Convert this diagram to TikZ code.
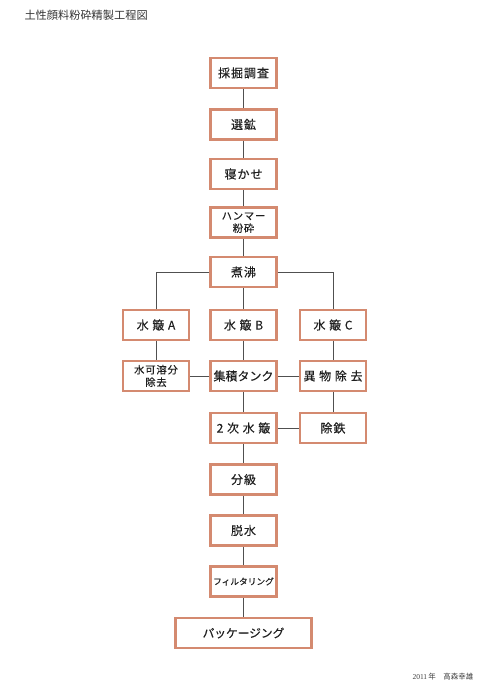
\documentclass[tikz,border=0pt]{standalone}
\usepackage{fontspec}
\setmainfont{Liberation Serif}
\newfontfamily\jp[FakeBold=0.25]{Noto Sans CJK JP}
\newfontfamily\jpsp[LetterSpace=8,FakeBold=0.25]{Noto Sans CJK JP}
\newfontfamily\jptitle{Noto Sans CJK JP}
\definecolor{boxedge}{RGB}{212,138,112}
\definecolor{conn}{RGB}{80,80,80}
\begin{document}
\begin{tikzpicture}[x=1pt,y=-1pt,
  stepbox/.style={draw=boxedge,line width=2.8pt,fill=white,minimum width=66pt,minimum height=30pt,inner sep=0pt,align=center,font=\jpsp\fontsize{12}{14}\selectfont,text=black!88},
  smallbox/.style={stepbox,font=\jpsp\fontsize{10.3}{12.5}\selectfont},
  link/.style={draw=conn,line width=1pt}]
\useasboundingbox (0,0) rectangle (490,693);
\node[anchor=west,font=\jptitle\fontsize{11.2}{13}\selectfont,text=black!80] (title) at (21,15) {土性顔料粉砕精製工程図};
\node[anchor=east,font=\fontsize{7.5}{9}\selectfont,text=black!75] (foot) at (477,677) {2011\,{\jptitle 年}\quad{\jptitle 高森幸雄}};

\node[stepbox] (n1) at (243.5,73) {採掘調査};
\node[stepbox] (n2) at (243.5,124.5) {選鉱};
\node[stepbox] (n3) at (243.5,174) {寝かせ};
\node[smallbox] (n4) at (243.5,222.5) {ハンマー\\粉砕};
\node[stepbox] (n5) at (243.5,272) {煮沸};
\node[stepbox] (a) at (156,325) {水 簸 A};
\node[stepbox] (b) at (243.5,325) {水 簸 B};
\node[stepbox] (c) at (333,325) {水 簸 C};
\node[smallbox] (a2) at (156,376) {水可溶分\\除去};
\node[stepbox,font=\jp\fontsize{12}{14}\selectfont] (b2) at (243.5,376) {集積タンク};
\node[stepbox] (c2) at (333,376) {異 物 除 去};
\node[stepbox] (b3) at (243.5,428) {2 次 水 簸};
\node[stepbox] (c3) at (333,428) {除鉄};
\node[stepbox] (n6) at (243.5,479.5) {分級};
\node[stepbox] (n7) at (243.5,530.5) {脱水};
\node[stepbox,font=\jp\fontsize{8.7}{10}\selectfont] (n8) at (243.5,581.5) {フィルタリング};
\node[stepbox,minimum width=136pt,font=\jp\fontsize{11.7}{13}\selectfont] (n9) at (243.5,633) {パッケージング};

\path[link] (n1) -- (n2);
\path[link] (n2) -- (n3);
\path[link] (n3) -- (n4);
\path[link] (n4) -- (n5);
\path[link] (n5) -- (b);
\path[link] (n5.west) -| (a.north);
\path[link] (n5.east) -| (c.north);
\path[link] (a) -- (a2);
\path[link] (b) -- (b2);
\path[link] (c) -- (c2);
\path[link] (a2) -- (b2);
\path[link] (c2) -- (b2);
\path[link] (c2) -- (c3);
\path[link] (b2) -- (b3);
\path[link] (c3) -- (b3);
\path[link] (b3) -- (n6);
\path[link] (n6) -- (n7);
\path[link] (n7) -- (n8);
\path[link] (n8) -- (n9);
\end{tikzpicture}
\end{document}
